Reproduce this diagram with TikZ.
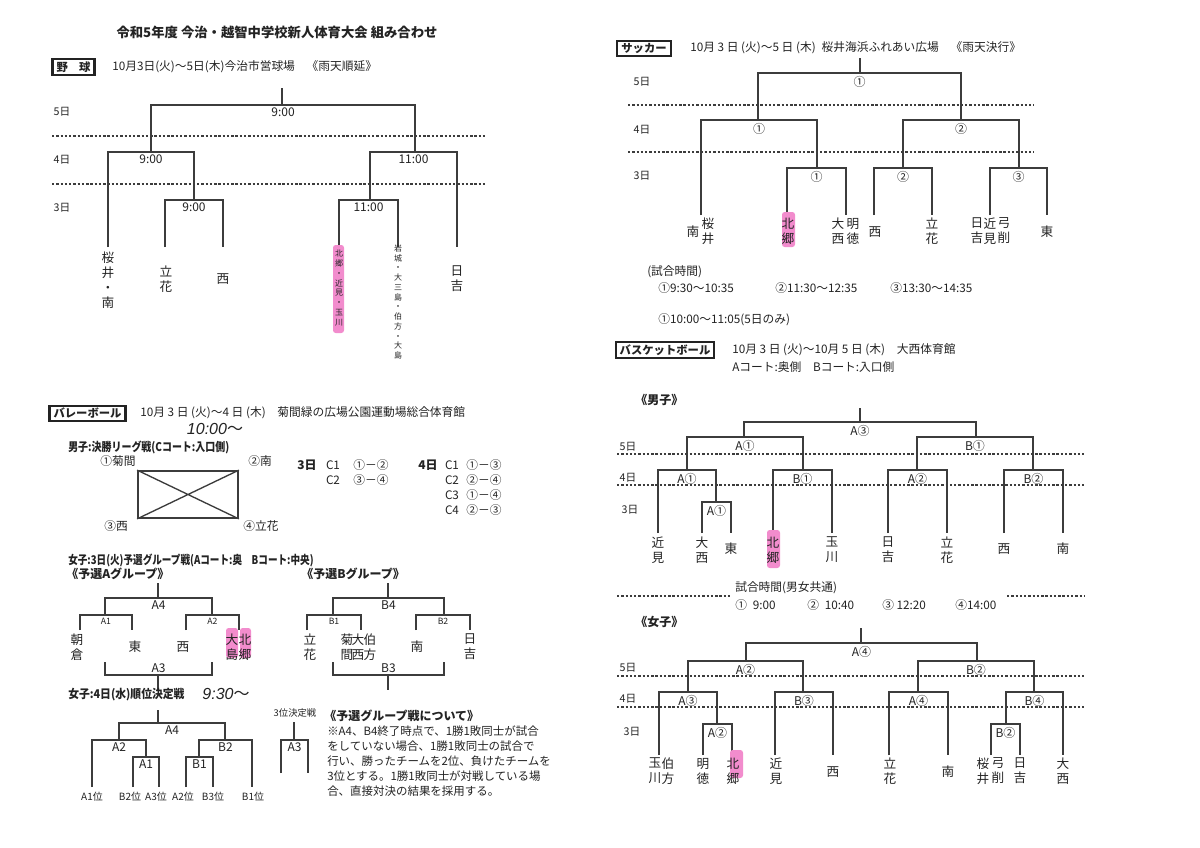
\documentclass[tikz,border=0pt]{standalone}
\usepackage{fontspec}
\usepackage{graphicx}
\setmainfont{Noto Sans CJK JP}
\newfontfamily\hand{Liberation Sans}
\definecolor{ink}{RGB}{35,35,35}
\definecolor{rule}{RGB}{60,60,60}
\definecolor{marker}{RGB}{242,140,205}
\newcommand{\fsize}[2]{\fontsize{#1}{#2}\selectfont}
\newcommand{\sm}{\fsize{6.5}{8}}
\newcommand{\narrow}[2]{\scalebox{#1}[1]{#2}}
% one match of a bracket: name, left x, right x, bar y, left foot, right foot, label
\newcommand{\game}[7]{%
  \draw[brk] (#2,#5) |- (#3,#4) -- (#3,#6);
  \node[gl] (#1) at ({(#2+#3)/2},#4) {#7};}

\begin{document}
\begin{tikzpicture}[x=0.75pt,y=-0.75pt]
   \tikzstyle{every node}=[inner sep=0pt, text=ink]
   \tikzstyle{brk}=[draw=rule, line width=1.1pt]
   \tikzstyle{dayline}=[draw=rule, line width=1pt, dash pattern=on 1.8pt off 1.4pt]
   \tikzstyle{gl}=[anchor=north, yshift=-2pt, font=\fsize{9}{10}]
   \tikzstyle{team}=[align=center, font=\fsize{9.5}{11.25}]
   \tikzstyle{minis}=[align=center, font=\fsize{6}{7.3}]
   \tikzstyle{day}=[font=\fsize{8}{9}]
   \tikzstyle{txt}=[font=\fsize{8.8}{10}]
   \tikzstyle{info}=[txt, anchor=west]
   \tikzstyle{head}=[anchor=west, font=\fsize{9}{10}\bfseries]
   \tikzstyle{sport}=[draw=ink, line width=1.6pt, inner xsep=3pt, inner ysep=1.8pt, font=\fsize{8.5}{9}\bfseries]
   \tikzstyle{hw}=[font=\fsize{12}{12}\hand\itshape]
   \tikzstyle{hl}=[fill=marker, rounded corners=2pt]

\useasboundingbox (0,0) rectangle (1200,847);
\fill[white] (0,0) rectangle (1200,847);

\node[font=\fsize{10}{12}\bfseries] (title) at (277,32) {令和5年度 今治・越智中学校新人体育大会 組み合わせ};

% baseball
\node[sport] (yakyu) at (73.5,67) {野　球};
\node[info] (yakyuInfo) at (112,67) {10月3日(火)～5日(木)今治市営球場　《雨天順延》};
\node[day] (bbD5) at (62,112) {5日};
\node[day] (bbD4) at (62,160) {4日};
\node[day] (bbD3) at (62,208) {3日};
\draw[dayline] (52,136) -- (485,136);
\draw[dayline] (52,184) -- (485,184);
\draw[brk] (282,88) -- (282,105);
\game{bbF}{151}{415}{105}{152}{152}{9:00}
\game{bbL}{108}{194}{152}{247}{200}{9:00}
\game{bbL1}{165}{223}{200}{247}{247}{9:00}
\game{bbR}{370}{457}{152}{200}{247}{11:00}
\game{bbR1}{339}{398}{200}{247}{247}{11:00}
\fill[hl] (333,245) rectangle (344,333);
\node[team] (bbT1) at (108,280) {桜\\井\\・\\南};
\node[team] (bbT2) at (166,279) {立\\花};
\node[team] (bbT3) at (223,279) {西};
\node[minis] (bbT4) at (339,288) {北\\郷\\・\\近\\見\\・\\玉\\川};
\node[minis] (bbT5) at (398,302) {岩\\城\\・\\大\\三\\島\\・\\伯\\方\\・\\大\\島};
\node[team] (bbT6) at (457,279) {日\\吉};

% volleyball
\node[sport] (volley) at (87.5,413.5) {バレーボール};
\node[info] (volleyInfo) at (140,413) {10月 3 日 (火)～4 日 (木)\quad 菊間緑の広場公園運動場総合体育館};
\node[hw] (vbStart) at (215,429) {10:00{\rmfamily ～}};
\node[head] (vbMen) at (68,447) {\narrow{0.83}{男子:決勝リーグ戦(Cコート:入口側)}};
\node[draw=rule, line width=1.3pt, minimum width=75pt, minimum height=35.25pt] (court) at (188,494.5) {};
\draw[rule, line width=1pt] (court.north west) -- (court.south east) (court.north east) -- (court.south west);
\node[txt] (vbK1) at (118,461) {①菊間};
\node[txt] (vbK2) at (260,461) {②南};
\node[txt] (vbK3) at (116,526) {③西};
\node[txt] (vbK4) at (261,526) {④立花};
\node[head, anchor=center] (vbDay3) at (307,465) {3日};
\node[txt] (vbC31) at (333,465) {C1};
\node[txt] (vbP31) at (371,465) {①－②};
\node[txt] (vbC32) at (333,480) {C2};
\node[txt] (vbP32) at (371,480) {③－④};
\node[head, anchor=center] (vbDay4) at (428,465) {4日};
\node[txt] (vbC41) at (452,465) {C1};
\node[txt] (vbP41) at (484,465) {①－③};
\node[txt] (vbC42) at (452,480) {C2};
\node[txt] (vbP42) at (484,480) {②－④};
\node[txt] (vbC43) at (452,495) {C3};
\node[txt] (vbP43) at (484,495) {①－④};
\node[txt] (vbC44) at (452,510) {C4};
\node[txt] (vbP44) at (484,510) {②－③};

\node[head] (vbWomen) at (68,560) {\narrow{0.8}{女子:3日(火)予選グループ戦(Aコート:奥　Bコート:中央)}};
\node[head] (grpA) at (66,574) {《予選Aグループ》};
\node[head] (grpB) at (301,574) {《予選Bグループ》};
\draw[brk] (158,583) -- (158,598);
\game{vaF}{105}{212}{598}{615}{615}{A4}
\game{va1}{80}{132}{615}{630}{630}{\sm A1}
\game{va2}{186}{239}{615}{630}{630}{\sm A2}
\draw[brk] (388,583) -- (388,598);
\game{vbF}{333}{444}{598}{615}{615}{B4}
\game{vb1}{307}{361}{615}{630}{630}{\sm B1}
\game{vb2}{416}{470}{615}{630}{630}{\sm B2}
\fill[hl] (226,628) rectangle (238,658);
\fill[hl] (240,628) rectangle (251,658);
\node[team] (vaT1) at (77,647) {朝\\倉};
\node[team] (vaT2) at (135,647) {東};
\node[team] (vaT3) at (183,647) {西};
\node[team] (vaT4) at (232,647) {大\\島};
\node[team] (vaT5) at (245,647) {北\\郷};
\node[team] (vbT1) at (310,647) {立\\花};
\node[team] (vbT2) at (347,647) {菊\\間};
\node[team] (vbT3) at (358,647) {大\\西};
\node[team] (vbT4) at (370,647) {伯\\方};
\node[team] (vbT5) at (417,647) {南};
\node[team] (vbT6) at (470,647) {日\\吉};
\draw[brk] (105,662) |- (212,675) -- (212,662);
\node[anchor=south, font=\fsize{9}{10}] (vaA3) at (158.5,673) {A3};
\draw[brk] (158,675) -- (158,690);
\draw[brk] (333,662) |- (444,675) -- (444,662);
\node[anchor=south, font=\fsize{9}{10}] (vbB3) at (388.5,673) {B3};
\draw[brk] (388,675) -- (388,690);

\node[head] (vbRank) at (68,695) {\narrow{0.9}{女子:4日(水)順位決定戦}};
\node[hw] (vbRankStart) at (226,694) {9:30{\rmfamily ～}};
\draw[brk] (158,710) -- (158,723);
\game{vfF}{119}{225}{723}{740}{740}{A4}
\game{vfL}{92}{146}{740}{787}{757}{A2}
\game{vfL1}{133}{159}{757}{787}{787}{A1}
\game{vfR}{199}{252}{740}{757}{787}{B2}
\game{vfR1}{186}{213}{757}{787}{787}{B1}
\node[font=\fsize{7}{8}] (vbThird) at (295,713) {3位決定戦};
\draw[brk] (294,722) -- (294,740);
\game{vfT}{281}{308}{740}{773}{773}{A3}
\node[font=\fsize{7.5}{9}] (rk1) at (92,797) {A1位};
\node[font=\fsize{7.5}{9}] (rk2) at (130,797) {B2位};
\node[font=\fsize{7.5}{9}] (rk3) at (156,797) {A3位};
\node[font=\fsize{7.5}{9}] (rk4) at (183,797) {A2位};
\node[font=\fsize{7.5}{9}] (rk5) at (213,797) {B3位};
\node[font=\fsize{7.5}{9}] (rk6) at (253,797) {B1位};
\node[head] (noteHead) at (324,716) {《予選グループ戦について》};
\node[anchor=north west, align=left, font=\fsize{8.6}{11.25}] (noteBody) at (327,726) {※A4、B4終了時点で、1勝1敗同士が試合\\をしていない場合、1勝1敗同士の試合で\\行い、勝ったチームを2位、負けたチームを\\3位とする。1勝1敗同士が対戦している場\\合、直接対決の結果を採用する。};

% soccer
\node[sport] (soccer) at (644,48.5) {サッカー};
\node[info] (soccerInfo) at (690,48) {10月 3 日 (火)～5 日 (木)\enspace 桜井海浜ふれあい広場\quad《雨天決行》};
\node[day] (scD5) at (642,82) {5日};
\node[day] (scD4) at (642,130) {4日};
\node[day] (scD3) at (642,176) {3日};
\draw[dayline] (628,105) -- (1034,105);
\draw[dayline] (628,152) -- (1034,152);
\draw[brk] (860,58) -- (860,73);
\game{scF}{758}{961}{73}{120}{120}{①}
\game{scL}{701}{817}{120}{215}{168}{①}
\game{scL1}{787}{846}{168}{215}{215}{①}
\game{scR}{903}{1019}{120}{168}{168}{②}
\game{scR1}{874}{932}{168}{215}{215}{②}
\game{scR2}{990}{1047}{168}{215}{215}{③}
\fill[hl] (782,212) rectangle (795,247);
\node[team] (scT1) at (693,232) {南};
\node[team] (scT2) at (708,231) {桜\\井};
\node[team] (scT3) at (788,231) {北\\郷};
\node[team] (scT4) at (838,231) {大\\西};
\node[team] (scT5) at (853,231) {明\\徳};
\node[team] (scT6) at (875,232) {西};
\node[team] (scT7) at (932,231) {立\\花};
\node[team] (scT8) at (977,231) {日\\吉};
\node[team] (scT9) at (990,231) {近\\見};
\node[team] (scT10) at (1004,231) {弓\\削};
\node[team] (scT11) at (1047,232) {東};
\node[info] (scTimes) at (647,272) {(試合時間)};
\node[info] (scT1t) at (658,288) {①9:30～10:35};
\node[info] (scT2t) at (775,288) {②11:30～12:35};
\node[info] (scT3t) at (890,288) {③13:30～14:35};
\node[info] (scT4t) at (658,320) {①10:00～11:05(5日のみ)};

% basketball
\node[sport] (basket) at (665,350) {バスケットボール};
\node[info] (basketInfo) at (732,350) {10月 3 日 (火)～10月 5 日 (木)\quad 大西体育館};
\node[info] (basketCourt) at (732,367) {Aコート:奥側　Bコート:入口側};
\node[head] (bkMen) at (635,400) {《男子》};
\node[day] (bmD5) at (628,447) {5日};
\node[day] (bmD4) at (628,478) {4日};
\node[day] (bmD3) at (630,510) {3日};
\draw[dayline] (617,454) -- (1085,454);
\draw[dayline] (617,485) -- (1085,485);
\draw[brk] (860,408) -- (860,422);
\game{bmF}{744}{976}{422}{437}{437}{A③}
\game{bmL}{687}{803}{437}{470}{470}{A①}
\game{bmR}{917}{1033}{437}{470}{470}{B①}
\game{bmA}{658}{716}{470}{533}{502}{A①}
\game{bmA1}{702}{731}{502}{533}{533}{A①}
\game{bmB}{773}{832}{470}{533}{533}{B①}
\game{bmC}{888}{947}{470}{533}{533}{A②}
\game{bmD}{1004}{1063}{470}{533}{533}{B②}
\fill[hl] (767,530) rectangle (780,568);
\node[team] (bmT1) at (658,550) {近\\見};
\node[team] (bmT2) at (702,550) {大\\西};
\node[team] (bmT3) at (731,549) {東};
\node[team] (bmT4) at (773,550) {北\\郷};
\node[team] (bmT5) at (832,550) {玉\\川};
\node[team] (bmT6) at (888,550) {日\\吉};
\node[team] (bmT7) at (947,550) {立\\花};
\node[team] (bmT8) at (1004,549) {西};
\node[team] (bmT9) at (1063,549) {南};
\draw[dayline] (617,596) -- (732,596);
\draw[dayline] (1007,596) -- (1085,596);
\node[info] (bkTimes) at (735,588) {試合時間(男女共通)};
\node[info] (bkT1) at (735,605) {①\enspace 9:00};
\node[info] (bkT2) at (807,605) {②\enspace 10:40};
\node[info] (bkT3) at (882,605) {③ 12:20};
\node[info] (bkT4) at (955,605) {④14:00};

\node[head] (bkWomen) at (635,622) {《女子》};
\node[day] (bwD5) at (628,668) {5日};
\node[day] (bwD4) at (628,699) {4日};
\node[day] (bwD3) at (632,732) {3日};
\draw[dayline] (617,676) -- (1085,676);
\draw[dayline] (617,707) -- (1085,707);
\draw[brk] (861,628) -- (861,643);
\game{bwF}{746}{977}{643}{661}{661}{A④}
\game{bwL}{688}{803}{661}{692}{692}{A②}
\game{bwR}{918}{1034}{661}{692}{692}{B②}
\game{bwA}{659}{717}{692}{755}{724}{A③}
\game{bwA1}{703}{732}{724}{755}{755}{A②}
\game{bwB}{775}{833}{692}{755}{755}{B③}
\game{bwC}{889}{948}{692}{755}{755}{A④}
\game{bwD}{1006}{1063}{692}{724}{755}{B④}
\game{bwD1}{991}{1020}{724}{755}{755}{B②}
\fill[hl] (730,750) rectangle (743,778);
\node[team] (bwT1) at (655,771) {玉\\川};
\node[team] (bwT2) at (668,771) {伯\\方};
\node[team] (bwT3) at (703,771) {明\\徳};
\node[team] (bwT4) at (733,771) {北\\郷};
\node[team] (bwT5) at (776,771) {近\\見};
\node[team] (bwT6) at (833,772) {西};
\node[team] (bwT7) at (890,771) {立\\花};
\node[team] (bwT8) at (948,772) {南};
\node[team] (bwT9) at (983,771) {桜\\井};
\node[team] (bwT10) at (998,771) {弓\\削};
\node[team] (bwT11) at (1020,771) {日\\吉};
\node[team] (bwT12) at (1063,771) {大\\西};

\end{tikzpicture}
\end{document}
